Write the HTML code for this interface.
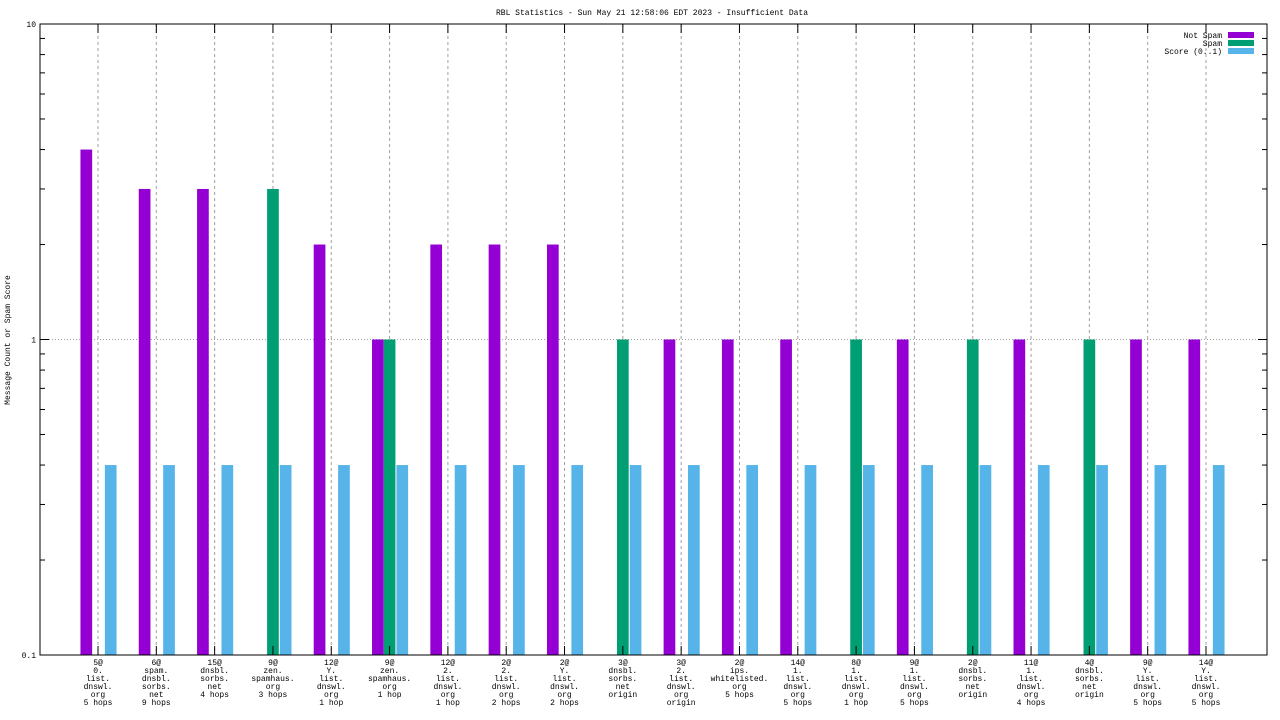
<!DOCTYPE html>
<html><head><meta charset="utf-8"><style>
body{margin:0;background:#fff}
svg{display:block;font-family:"Liberation Mono","DejaVu Sans Mono",monospace}
</style></head><body>
<svg id="c" width="1280" height="720"></svg>
<script>
const categories=[
["5@","0.","list.","dnswl.","org","5 hops"],["6@","spam.","dnsbl.","sorbs.","net","9 hops"],["15@","dnsbl.","sorbs.","net","4 hops"],["9@","zen.","spamhaus.","org","3 hops"],["12@","Y.","list.","dnswl.","org","1 hop"],["9@","zen.","spamhaus.","org","1 hop"],["12@","2.","list.","dnswl.","org","1 hop"],["2@","2.","list.","dnswl.","org","2 hops"],["2@","Y.","list.","dnswl.","org","2 hops"],["3@","dnsbl.","sorbs.","net","origin"],["3@","2.","list.","dnswl.","org","origin"],["2@","ips.","whitelisted.","org","5 hops"],["14@","1.","list.","dnswl.","org","5 hops"],["8@","1.","list.","dnswl.","org","1 hop"],["9@","1.","list.","dnswl.","org","5 hops"],["2@","dnsbl.","sorbs.","net","origin"],["11@","1.","list.","dnswl.","org","4 hops"],["4@","dnsbl.","sorbs.","net","origin"],["9@","Y.","list.","dnswl.","org","5 hops"],["14@","Y.","list.","dnswl.","org","5 hops"]];
const notSpam=[4,3,3,0,2,1,2,2,2,0,1,1,1,0,1,0,1,0,1,1];
const spam=[0,0,0,3,0,1,0,0,0,1,0,0,0,1,0,1,0,1,0,0];
const score=[0.4,0.4,0.4,0.4,0.4,0.4,0.4,0.4,0.4,0.4,0.4,0.4,0.4,0.4,0.4,0.4,0.4,0.4,0.4,0.4];
const yTicks=[0.1,1,10];
const seriesNames=["Not Spam","Spam","Score (0..1)"];
const colors=["#9400d3","#009e73","#56b4e9"];

const svg=document.getElementById('c');const NS="http://www.w3.org/2000/svg";
function mk(t,a,p){const e=document.createElementNS(NS,t);for(const k in a)e.setAttribute(k,a[k]);(p||svg).appendChild(e);return e;}
const L=40,R=1267,T=24,B=655;
const y=v=>B-(Math.log10(v)+1)/2*(B-T);
const x0=98,dx=(1206-98)/19;const xc=i=>x0+i*dx;
const bw=11.7;
// title
let t=mk('text',{x:652,y:15,'font-size':8,'text-anchor':'middle'});t.textContent="RBL Statistics - Sun May 21 12:58:06 EDT 2023 - Insufficient Data";


// grid
categories.forEach((c,i)=>{const g=mk('line',{x1:xc(i),x2:xc(i),y1:T,y2:B,stroke:'#a0a0a0','stroke-dasharray':'3,3','stroke-width':1});

});
yTicks.forEach(v=>{const g=mk('line',{x1:L,x2:R,y1:y(v),y2:y(v),stroke:'#a0a0a0','stroke-dasharray':'1,2'});


const lb=mk('text',{x:L-4,y:y(v)+3,'font-size':8,'text-anchor':'end'});lb.textContent=String(v);


[L,R].forEach(px=>{const d=px==L?1:-1;mk('line',{x1:px,x2:px+d*9,y1:y(v),y2:y(v),stroke:'#000'});});
if(v<10)for(let k=2;k<10;k++){const yy=y(v*k);[L,R].forEach(px=>{const d=px==L?1:-1;mk('line',{x1:px,x2:px+d*5,y1:yy,y2:yy,stroke:'#000'});});}
});
// bars
const series=[notSpam,spam,score];
categories.forEach((c,i)=>{
series.forEach((s,k)=>{const v=s[i];if(!v)return;const bx=xc(i)+(k-1.5)*bw+(k==2?1:0);
const r=mk('rect',{x:bx,y:y(v),width:bw,height:B-y(v),fill:colors[k]});

});
mk('line',{x1:xc(i),x2:xc(i),y1:B,y2:B-9,stroke:'#000'});mk('line',{x1:xc(i),x2:xc(i),y1:T,y2:T+9,stroke:'#000'});
const tx=mk('text',{x:xc(i),y:665,'font-size':8,'text-anchor':'middle'});


c.forEach((ln,j)=>{const ts=mk('tspan',{x:xc(i),dy:j?8:0},tx);ts.textContent=ln;});
});
// border
mk('rect',{x:L,y:T,width:R-L,height:B-T,fill:'none',stroke:'#000'});
// y title
const yt=mk('text',{x:10,y:340,'font-size':8,'text-anchor':'middle',transform:'rotate(-90 10 340)'});yt.textContent="Message Count or Spam Score";


// legend
seriesNames.forEach((n,k)=>{const yy=35+k*8;const lt=mk('text',{x:1222,y:yy+3,'font-size':8,'text-anchor':'end'});lt.textContent=n;


mk('rect',{x:1228,y:yy-3,width:26,height:6,fill:colors[k]});});
</script>
</body></html>
